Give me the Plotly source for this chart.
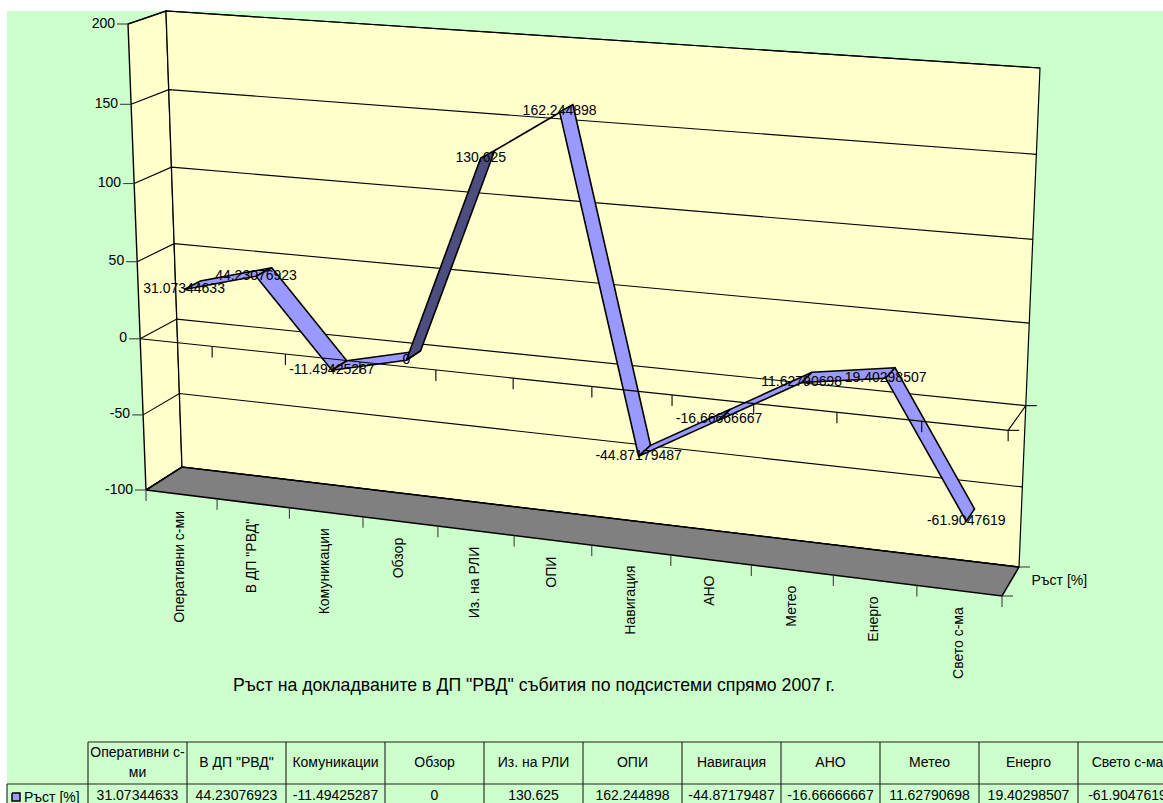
import numpy as np
import plotly.graph_objects as go

# ---- chart data ----
categories = ["Оперативни с-ми", 'В ДП "РВД"', "Комуникации", "Обзор", "Из. на РЛИ", "ОПИ",
              "Навигация", "АНО", "Метео", "Енерго", "Свето с-ма"]
growth = [31.07344633, 44.23076923, -11.49425287, 0, 130.625, 162.244898,
          -44.87179487, -16.66666667, 11.62790698, 19.40298507, -61.9047619]
growth_labels = ["31.07344633", "44.23076923", "-11.49425287", "0", "130.625", "162.244898",
                 "-44.87179487", "-16.66666667", "11.62790698", "19.40298507", "-61.9047619"]
value_ticks = [200, 150, 100, 50, 0, -50, -100]
series_name = "Ръст [%]"
chart_title = 'Ръст на докладваните в ДП "РВД" събития по подсистеми спрямо 2007 г.'

# how each ribbon segment shows: lit top face, shaded underside, or seen edge-on
segment_faces = ["top", "top", "top", "under", "edge", "top", "top", "top", "top", "top"]

# ---- palette ----
BACKGROUND = "#CCFFCC"
WALL = "#FFFFCC"
FLOOR = "#808080"
RIBBON = "#9999FF"
RIBBON_DARK = "#4D4D80"
FONT = dict(family="Liberation Sans, Arial, sans-serif", size=14, color="#000000")

# ---- oblique box projection ----
VMIN, VMAX = -100.0, 200.0
FRONT_CORNERS = [(146, 490), (1002, 596), (1021, 84), (128, 24)]   # bl, br, tr, tl
BACK_CORNERS = [(182, 467), (1019, 567), (1040, 68), (166, 11)]
RIBBON_NEAR, RIBBON_FAR = 0.27, 0.72


def homography(corners):
    src = [(0, 0), (1, 0), (1, 1), (0, 1)]
    rows, rhs = [], []
    for (a, b), (x, y) in zip(src, corners):
        rows.append([a, b, 1, 0, 0, 0, -a * x, -b * x])
        rhs.append(x)
        rows.append([0, 0, 0, a, b, 1, -a * y, -b * y])
        rhs.append(y)
    return np.append(np.linalg.solve(np.array(rows, float), np.array(rhs, float)), 1.0).reshape(3, 3)


H_FRONT, H_BACK = homography(FRONT_CORNERS), homography(BACK_CORNERS)


def project(u, value, depth):
    """Map (category fraction, value, depth 0..1) to the page."""
    p = np.array([u, (value - VMIN) / (VMAX - VMIN), 1.0])
    f, b = H_FRONT @ p, H_BACK @ p
    f, b = f[:2] / f[2], b[:2] / b[2]
    return tuple(f + (b - f) * depth)


n = len(categories)
mid = lambda i: (i + 0.5) / n
edge = lambda i: i / n

fig = go.Figure()


def polygon(points, fill, line_width=1.4):
    xs, ys = zip(*points)
    fig.add_trace(go.Scatter(x=list(xs) + [xs[0]], y=list(ys) + [ys[0]], mode="lines", fill="toself",
                             fillcolor=fill, line=dict(color="#000000", width=line_width),
                             hoverinfo="skip", showlegend=False))


def polyline(points, width=1.1, color="#000000"):
    xs, ys = zip(*points)
    fig.add_trace(go.Scatter(x=list(xs), y=list(ys), mode="lines", line=dict(color=color, width=width),
                             hoverinfo="skip", showlegend=False))


def texts(xs, ys, labels, position="middle center"):
    fig.add_trace(go.Scatter(x=xs, y=ys, mode="text", text=labels, textposition=position, textfont=FONT,
                             cliponaxis=False, hoverinfo="skip", showlegend=False))


# walls and floor
polygon([project(0, VMIN, 0), project(0, VMAX, 0), project(0, VMAX, 1), project(0, VMIN, 1)], WALL, 1.4)
polygon([project(0, VMIN, 1), project(0, VMAX, 1), project(1, VMAX, 1), project(1, VMIN, 1)], WALL, 1.2)
polygon([project(0, VMIN, 0), project(0, VMIN, 1), project(1, VMIN, 1), project(1, VMIN, 0)], FLOOR, 1.5)

# gridlines along the left and back walls, value ticks on the front edge
for v in value_ticks:
    polyline([project(0, v, 0), project(0, v, 1), project(1, v, 1)])
    x, y = project(0, v, 0)
    polyline([(x - 11, y), (x, y)], color="#404040")
texts([project(0, v, 0)[0] - 13 for v in value_ticks], [project(0, v, 0)[1] for v in value_ticks],
      [str(v) for v in value_ticks], "middle left")

# ribbon
near = [project(mid(i), growth[i], RIBBON_NEAR) for i in range(n)]
far = [project(mid(i), growth[i], RIBBON_FAR) for i in range(n)]
for i, face in enumerate(segment_faces):
    if face == "edge":
        polyline([far[i], far[i + 1]], width=1.6)
    else:
        polygon([near[i], near[i + 1], far[i + 1], far[i]], RIBBON if face == "top" else RIBBON_DARK, 1.6)

# zero axis passes in front of the ribbon
polyline([project(0, 0, 0), project(1, 0, 0), project(1, 0, 1)])
for i in range(1, n + 1):
    x, y = project(edge(i), 0, 0)
    polyline([(x, y), (x, y + 11)])
x, y = project(1, 0, 0)
polyline([(x, y), (x + 11, y)])
x, y = project(1, 0, 1)
polyline([(x, y), (x + 11, y)])

# floor ticks along the category edge and the series edge
for i in range(n + 1):
    x, y = project(edge(i), VMIN, 0)
    polyline([(x, y), (x, y + 11)], color="#404040")
for depth in (0, 1):
    x, y = project(1, VMIN, depth)
    polyline([(x, y), (x + 11, y)], color="#404040")

# data labels sit on the near edge of the ribbon
texts([p[0] for p in near], [p[1] for p in near], growth_labels)

# category labels, rotated under the floor edge
annotations = []
for i, name in enumerate(categories):
    x, y = project(mid(i), VMIN, 0)
    annotations.append(dict(x=x - 2, y=y + 14, xref="x", yref="y", text=name, textangle=-90, showarrow=False,
                            xanchor="center", yanchor="top", font=FONT))

# series name beside the floor
xa, ya = project(1, VMIN, 0.5)
texts([xa + 21], [ya], [series_name], "middle right")

# data table
COL_LEFT, COL_WIDTH = 88.0, 99.0
ROW_TOP, ROW_MID, ROW_BOTTOM = 742, 784, 803
col_x = [COL_LEFT + COL_WIDTH * i for i in range(n + 1)]
polyline([(COL_LEFT, ROW_TOP), (1163, ROW_TOP)], color="#202020")
polyline([(7, ROW_MID), (1163, ROW_MID)], color="#202020")
polyline([(7, ROW_MID), (7, ROW_BOTTOM)], color="#202020")
for x in col_x:
    polyline([(x, ROW_TOP), (x, ROW_BOTTOM)], color="#202020")

centers = [COL_LEFT + COL_WIDTH * (i + 0.5) for i in range(n)]
for cx, name, label in zip(centers, categories, growth_labels):
    if len(name) > 13:
        head, tail = name[:13], name[13:]
        texts([cx, cx], [753, 773], [head, tail])
    else:
        texts([cx], [763], [name])
    texts([cx], [796.5], [label])

polygon([(12, 793), (20, 793), (20, 801), (12, 801)], RIBBON, 1.5)
texts([24], [798], [series_name], "middle right")

fig.update_layout(
    width=1163, height=803, margin=dict(l=0, r=0, t=0, b=0),
    paper_bgcolor="#FFFFFF", plot_bgcolor="rgba(0,0,0,0)",
    xaxis=dict(range=[0, 1163], visible=False, fixedrange=True),
    yaxis=dict(range=[803, 0], visible=False, fixedrange=True),
    title=dict(text=chart_title, x=534 / 1163, y=1 - 684.5 / 803, xanchor="center", yanchor="middle",
               font=dict(FONT, size=17.7)),
    shapes=[dict(type="rect", xref="x", yref="y", x0=7, y0=11, x1=1163, y1=803,
                 fillcolor=BACKGROUND, line_width=0, layer="below")],
    annotations=annotations,
    showlegend=False,
)

fig.write_html("out.html", config=dict(displayModeBar=False))
